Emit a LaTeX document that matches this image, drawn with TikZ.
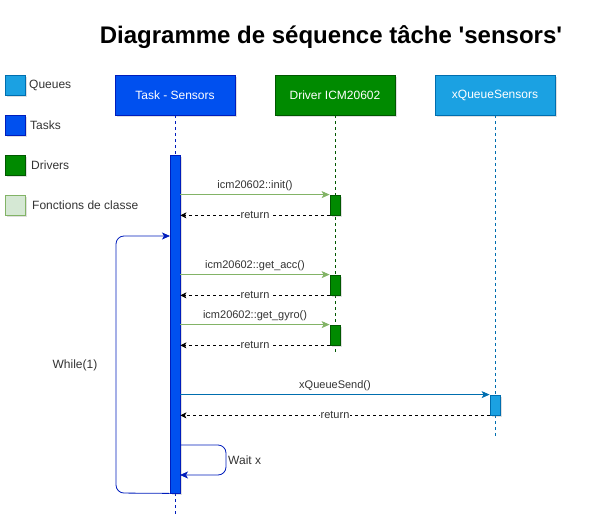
\documentclass[tikz,border=0pt]{standalone}
\usepackage{fontspec}
\setmainfont{Liberation Sans}
\newfontfamily\titlefont{Liberation Sans}
\usetikzlibrary{arrows.meta,shadows}
\definecolor{taskfill}{HTML}{0050EF}
\definecolor{taskline}{HTML}{001DBC}
\definecolor{drvfill}{HTML}{008A00}
\definecolor{drvline}{HTML}{005700}
\definecolor{qfill}{HTML}{1BA1E2}
\definecolor{qline}{HTML}{006EAF}
\definecolor{fcfill}{HTML}{D5E8D4}
\definecolor{fcline}{HTML}{82B366}
\definecolor{txt}{HTML}{333333}
\tikzset{
  shad/.style={drop shadow={opacity=0.25,shadow xshift=2pt,shadow yshift=-2pt}},
  head/.style={draw,line width=0.8pt,minimum width=120pt,minimum height=40pt,inner sep=0pt,text=white,font=\fontsize{12}{14}\selectfont,shad},
  legbox/.style={draw,line width=0.8pt,minimum width=20pt,minimum height=20pt,inner sep=0pt,shad},
  legtxt/.style={anchor=west,inner sep=0pt,text=txt,font=\fontsize{12}{14}\selectfont},
  life/.style={dash pattern=on 3pt off 3pt,line width=0.8pt},
  act/.style={draw,line width=0.8pt,minimum width=10pt,inner sep=0pt,shad},
  msg/.style={line width=0.8pt,-{Stealth[length=8pt,width=7pt,inset=2pt]}},
  ret/.style={black,line width=0.8pt,dash pattern=on 3pt off 3pt,-{Stealth[length=6pt,width=6pt,inset=1.5pt]}},
  lbl/.style={fill=white,inner sep=1pt,text=txt,font=\fontsize{11}{13}\selectfont},
  above lbl/.style={lbl,yshift=9pt},
  flow/.style={taskline,line width=0.8pt,rounded corners=8pt,-{Stealth[length=8pt,width=7pt,inset=2pt]}}
}
\begin{document}
\begin{tikzpicture}[x=1pt,y=-1pt]
\useasboundingbox (0,0) rectangle (602,532);
% title
\node (title) at (331,37) {\titlefont\fontsize{24}{28}\selectfont\bfseries Diagramme de séquence tâche 'sensors'};
% legend
\node[legbox,fill=qfill,draw=qline] (lq) at (15,85) {};
\node[legtxt] (lqt) at (29,85) {Queues};
\node[legbox,fill=taskfill,draw=taskline] (lt) at (15,125) {};
\node[legtxt] (ltt) at (30,125) {Tasks};
\node[legbox,fill=drvfill,draw=drvline] (ld) at (15,165) {};
\node[legtxt] (ldt) at (31,165) {Drivers};
\node[legbox,fill=fcfill,draw=fcline] (lf) at (15,205) {};
\node[legtxt] (lft) at (32,205) {Fonctions de classe};
% headers
\node[head,fill=taskfill,draw=taskline] (task) at (175,95) {Task - Sensors};
\node[head,fill=drvfill,draw=drvline] (drv) at (335,95) {Driver ICM20602};
\node[head,fill=qfill,draw=qline] (que) at (495,95) {xQueueSensors};
% lifeline ends
\coordinate (taskend) at (175,515);
\coordinate (drvend) at (335,352);
\coordinate (queend) at (495,437);
\draw[life,taskline] (task.south) -- (taskend);
\draw[life,drvline] (drv.south) -- (drvend);
\draw[life,qline] (que.south) -- (queend);
% activations
\node[act,fill=taskfill,draw=taskline,minimum height=338pt] (tb) at (175,324) {};
\node[act,fill=drvfill,draw=drvline,minimum height=20pt] (d1) at (335,205) {};
\node[act,fill=drvfill,draw=drvline,minimum height=20pt] (d2) at (335,285) {};
\node[act,fill=drvfill,draw=drvline,minimum height=20pt] (d3) at (335,335) {};
\node[act,fill=qfill,draw=qline,minimum height=20pt] (q1) at (495,405) {};
% messages
\draw[msg,fcline] (tb.east |- d1.north west) -- node[above lbl] {icm20602::init()} (d1.north west);
\draw[ret] (d1.south west) -- node[lbl] {return} (tb.east |- d1.south west);
\draw[msg,fcline] (tb.east |- d2.north west) -- node[above lbl] {icm20602::get\_acc()} (d2.north west);
\draw[ret] (d2.south west) -- node[lbl] {return} (tb.east |- d2.south west);
\draw[msg,fcline] (tb.east |- d3.north west) -- node[above lbl] {icm20602::get\_gyro()} (d3.north west);
\draw[ret] (d3.south west) -- node[lbl] {return} (tb.east |- d3.south west);
\draw[msg,qline] (tb.east |- q1.north west) -- node[above lbl] {xQueueSend()} (q1.north west);
\draw[ret] (q1.south west) -- node[lbl] {return} (tb.east |- q1.south west);
% wait loop
\coordinate (w1) at (180,445);
\coordinate (w2) at (180,475);
\draw[flow] (w1) -- (226,445) -- (226,475) -- (w2);
\node[anchor=west,inner sep=0pt,text=txt,font=\fontsize{12}{14}\selectfont] (waitx) at (228,460) {Wait x};
% while loop
\coordinate (l1) at (170,236);
\draw[flow] (tb.south west) -- (116,493) -- (116,236) -- (l1);
\node[text=txt,font=\fontsize{12}{14}\selectfont,inner sep=0pt] (while) at (75,365) {While(1)};
\end{tikzpicture}
\end{document}
